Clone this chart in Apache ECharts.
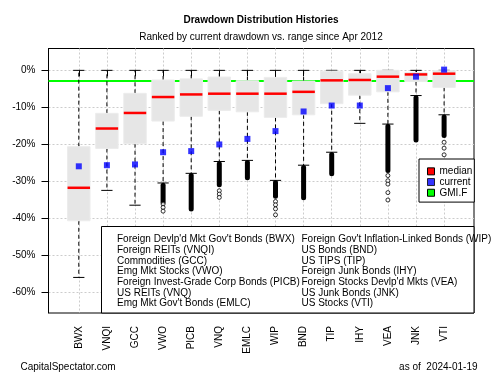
<!DOCTYPE html>
<html>
<head>
<meta charset="utf-8">
<script src="https://cdn.jsdelivr.net/npm/echarts@6/dist/echarts.min.js"></script>
<style>
html, body { margin: 0; padding: 0; background: #fff; }
#chart { width: 500px; height: 375px; }
</style>
</head>
<body>
<div id="chart"></div>
<script>
var tickers = ['BWX', 'VNQI', 'GCC', 'VWO', 'PICB', 'VNQ', 'EMLC', 'WIP', 'BND', 'TIP', 'IHY', 'VEA', 'JNK', 'VTI'];
// box stats, % drawdown
var whiskLo = [-55.9, -32.4, -36.4, -30.4, -27.8, -24.6, -24.3, -29.7, -25.6, -22.1, -14.3, -14.5, -6.8, -12.0];
var boxLo   = [-40.6, -21.1, -19.8, -13.7, -12.4, -10.8, -11.2, -12.7, -12.0, -9.0, -6.7, -5.8, -3.0, -4.6];
var medians = [-31.7, -15.7, -11.5, -7.2, -6.5, -6.3, -6.3, -6.3, -5.8, -2.7, -2.6, -1.7, -1.1, -0.9];
var boxHi   = [-20.6, -11.6, -6.2, -2.6, -2.3, -1.8, -2.8, -1.9, -2.9, -0.2, -0.9, 0.0, -0.6, -0.1];
var whiskHi = [0, 0, 0, 0, 0, 0, 0, 0, 0, 0, 0, 0, 0, 0];
var current = [-25.9, -25.6, -25.4, -22.1, -21.8, -20.0, -18.5, -16.4, -11.1, -9.5, -9.5, -4.8, -1.7, 0.2];
// dense runs of outliers (top, bottom), null = none
var outTop    = [null, null, null, -31.0, -28.4, -25.2, -24.9, -30.3, -26.2, -22.7, null, -15.1, -7.4, -12.6];
var outBottom = [null, null, null, -35.6, -37.4, -30.9, -29.0, -34.0, -34.4, -27.9, null, -27.0, -18.8, -17.6];
// loose outliers [category index, value]
var outPoints = [
  [3, -36.1], [3, -37.0], [3, -38.0],
  [5, -32.5], [5, -33.4], [5, -34.3],
  [7, -35.4], [7, -36.3], [7, -37.4], [7, -39.0],
  [11, -28.4], [11, -29.8], [11, -30.7], [11, -33.0], [11, -35.0],
  [13, -19.4], [13, -21.0], [13, -22.8]
];
var gmif = -2.9;
var yTicks = [-60, -50, -40, -30, -20, -10, 0];
var namesLeft = [
  "Foreign Devlp'd Mkt Gov't Bonds (BWX)",
  "Foreign REITs (VNQI)",
  "Commodities (GCC)",
  "Emg Mkt Stocks (VWO)",
  "Foreign Invest-Grade Corp Bonds (PICB)",
  "US REITs (VNQ)",
  "Emg Mkt Gov't Bonds (EMLC)"
];
var namesRight = [
  "Foreign Gov't Inflation-Linked Bonds (WIP)",
  "US Bonds (BND)",
  "US TIPS (TIP)",
  "Foreign Junk Bonds (IHY)",
  "Foreign Stocks Devlp'd Mkts (VEA)",
  "US Junk Bonds (JNK)",
  "US Stocks (VTI)"
];

var font = 'Liberation Sans, Arial, sans-serif';

var boxData = tickers.map(function (t, i) {
  return [i, whiskLo[i], boxLo[i], medians[i], boxHi[i], whiskHi[i], outTop[i], outBottom[i]];
});
var curData = tickers.map(function (t, i) { return [i, current[i]]; });

function renderBox(params, api) {
  var i = api.value(0);
  var bw = api.size([1, 0])[0];
  var w = bw * 0.8;
  var x = api.coord([i, 0])[0];
  var y = function (k) { return api.coord([i, api.value(k)])[1]; };
  var yMin = y(1), yQ1 = y(2), yMed = y(3), yQ3 = y(4), yMax = y(5);
  var kids = [];
  var dash = { stroke: '#000', lineWidth: 1, lineDash: [4, 3] };
  var solid = { stroke: '#000', lineWidth: 1 };
  kids.push({ type: 'line', shape: { x1: x, y1: yQ3, x2: x, y2: yMax }, style: dash });
  kids.push({ type: 'line', shape: { x1: x, y1: yQ1, x2: x, y2: yMin }, style: dash });
  kids.push({ type: 'line', shape: { x1: x - w / 4, y1: yMax, x2: x + w / 4, y2: yMax }, style: solid });
  kids.push({ type: 'line', shape: { x1: x - w / 4, y1: yMin, x2: x + w / 4, y2: yMin }, style: solid });
  kids.push({ type: 'rect', shape: { x: x - w / 2, y: yQ3, width: w, height: Math.max(yQ1 - yQ3, 1) },
    style: { fill: '#e6e6e6', stroke: '#ececec', lineWidth: 1 } });
  kids.push({ type: 'line', shape: { x1: x - w / 2, y1: yMed, x2: x + w / 2, y2: yMed },
    style: { stroke: '#ff0000', lineWidth: 2.5 } });
  var ot = api.value(6), ob = api.value(7);
  if (ot != null && !isNaN(ot) && ob != null && !isNaN(ob)) {
    var yt = api.coord([i, ot])[1], yb = api.coord([i, ob])[1];
    kids.push({ type: 'rect', shape: { x: x - 2.5, y: yt - 2.5, width: 5, height: yb - yt + 5, r: 2.5 },
      style: { fill: '#000' } });
  }
  return { type: 'group', children: kids };
}

var chart = echarts.init(document.getElementById('chart'));
var option = {
  animation: false,
  textStyle: { fontFamily: font },
  grid: [
    { left: 48.5, top: 48.5, width: 425.5, height: 264.5, show: true, borderColor: '#000', borderWidth: 1, backgroundColor: 'transparent' },
    { left: 78.8, top: 48.5, width: 365.3, height: 264.5 }
  ],
  xAxis: [
    { gridIndex: 0, type: 'value', min: 0, max: 1, show: false },
    {
      gridIndex: 1, type: 'category', data: tickers, boundaryGap: false,
      axisLine: { show: false },
      axisTick: { show: true, length: 6, interval: 0, lineStyle: { color: '#000' } },
      axisLabel: { rotate: 90, margin: 13, interval: 0, fontSize: 10, color: '#000', fontFamily: font },
      splitLine: { show: true, interval: 0, lineStyle: { color: '#cccccc', type: [2, 2] } }
    }
  ],
  yAxis: [
    {
      gridIndex: 0, type: 'value', min: -65.5, max: 5.9,
      axisLine: { show: true, lineStyle: { color: '#000' } },
      axisTick: { show: true, length: 7, customValues: yTicks, lineStyle: { color: '#000' } },
      axisLabel: { customValues: yTicks, margin: 13, fontSize: 10, color: '#000', fontFamily: font,
        formatter: function (v) { return v + '%'; } },
      splitLine: { show: true, lineStyle: { color: '#cccccc', type: [2, 2] } }
    },
    { gridIndex: 1, type: 'value', min: -65.5, max: 5.9, show: false }
  ],
  legend: {
    orient: 'vertical', left: 419, top: 159, padding: [7, 2, 4, 8],
    itemWidth: 7, itemHeight: 7, itemGap: 0, selectedMode: false,
    borderColor: '#000', borderWidth: 1, backgroundColor: '#fff',
    textStyle: { fontSize: 10, lineHeight: 10.7, color: '#000', fontFamily: font },
    data: [
      { name: 'median', icon: 'rect', itemStyle: { color: '#ff0000', borderColor: '#000', borderWidth: 1 } },
      { name: 'current', icon: 'rect', itemStyle: { color: '#0000ff', borderColor: '#000', borderWidth: 1 } },
      { name: 'GMI.F', icon: 'rect', itemStyle: { color: '#00ff00', borderColor: '#000', borderWidth: 1 } }
    ]
  },
  series: [
    {
      name: 'GMI.F', type: 'line', xAxisIndex: 0, yAxisIndex: 0, z: 1,
      data: [[0, gmif], [1, gmif]], showSymbol: false, symbol: 'none', silent: true,
      color: '#00ff00', lineStyle: { color: '#00ff00', width: 2 }
    },
    {
      name: 'median', type: 'custom', xAxisIndex: 1, yAxisIndex: 1, z: 3,
      data: boxData, renderItem: renderBox, encode: { x: 0, y: 1 },
      itemStyle: { color: '#ff0000' }, silent: true
    },
    {
      name: 'outliers', type: 'scatter', xAxisIndex: 1, yAxisIndex: 1, z: 4,
      data: outPoints, symbol: 'circle', symbolSize: 4, silent: true,
      itemStyle: { color: '#fff', borderColor: '#000', borderWidth: 1 }
    },
    {
      name: 'current', type: 'scatter', xAxisIndex: 1, yAxisIndex: 1, z: 5,
      data: curData, symbol: 'rect', symbolSize: 6, silent: true,
      itemStyle: { color: '#0000ff' }
    }
  ],
  graphic: [
    { type: 'text', x: 261, y: 20, z: 10, style: { text: 'Drawdown Distribution Histories', fill: '#000',
      font: 'bold 10px ' + font, textAlign: 'center', textVerticalAlign: 'middle' } },
    { type: 'text', x: 261, y: 37, z: 10, style: { text: 'Ranked by current drawdown vs. range since Apr 2012', fill: '#000',
      font: '10px ' + font, textAlign: 'center', textVerticalAlign: 'middle' } },
    { type: 'rect', z: 10, shape: { x: 101.5, y: 226.5, width: 372.5, height: 86.5 },
      style: { fill: '#fff', stroke: '#000', lineWidth: 1 } },
    { type: 'text', x: 117, y: 234, z: 11, style: { text: namesLeft.join('\n'), fill: '#000',
      font: '10px ' + font, lineHeight: 10.73, textAlign: 'left', textVerticalAlign: 'top' } },
    { type: 'text', x: 301.5, y: 234, z: 11, style: { text: namesRight.join('\n'), fill: '#000',
      font: '10px ' + font, lineHeight: 10.73, textAlign: 'left', textVerticalAlign: 'top' } },
    { type: 'text', x: 20.5, y: 367, z: 10, style: { text: 'CapitalSpectator.com', fill: '#000',
      font: '10px ' + font, textAlign: 'left', textVerticalAlign: 'middle' } },
    { type: 'text', x: 477.5, y: 367, z: 10, style: { text: 'as of  2024-01-19', fill: '#000',
      font: '10px ' + font, textAlign: 'right', textVerticalAlign: 'middle' } }
  ]
};
chart.setOption(option);
</script>
</body>
</html>
